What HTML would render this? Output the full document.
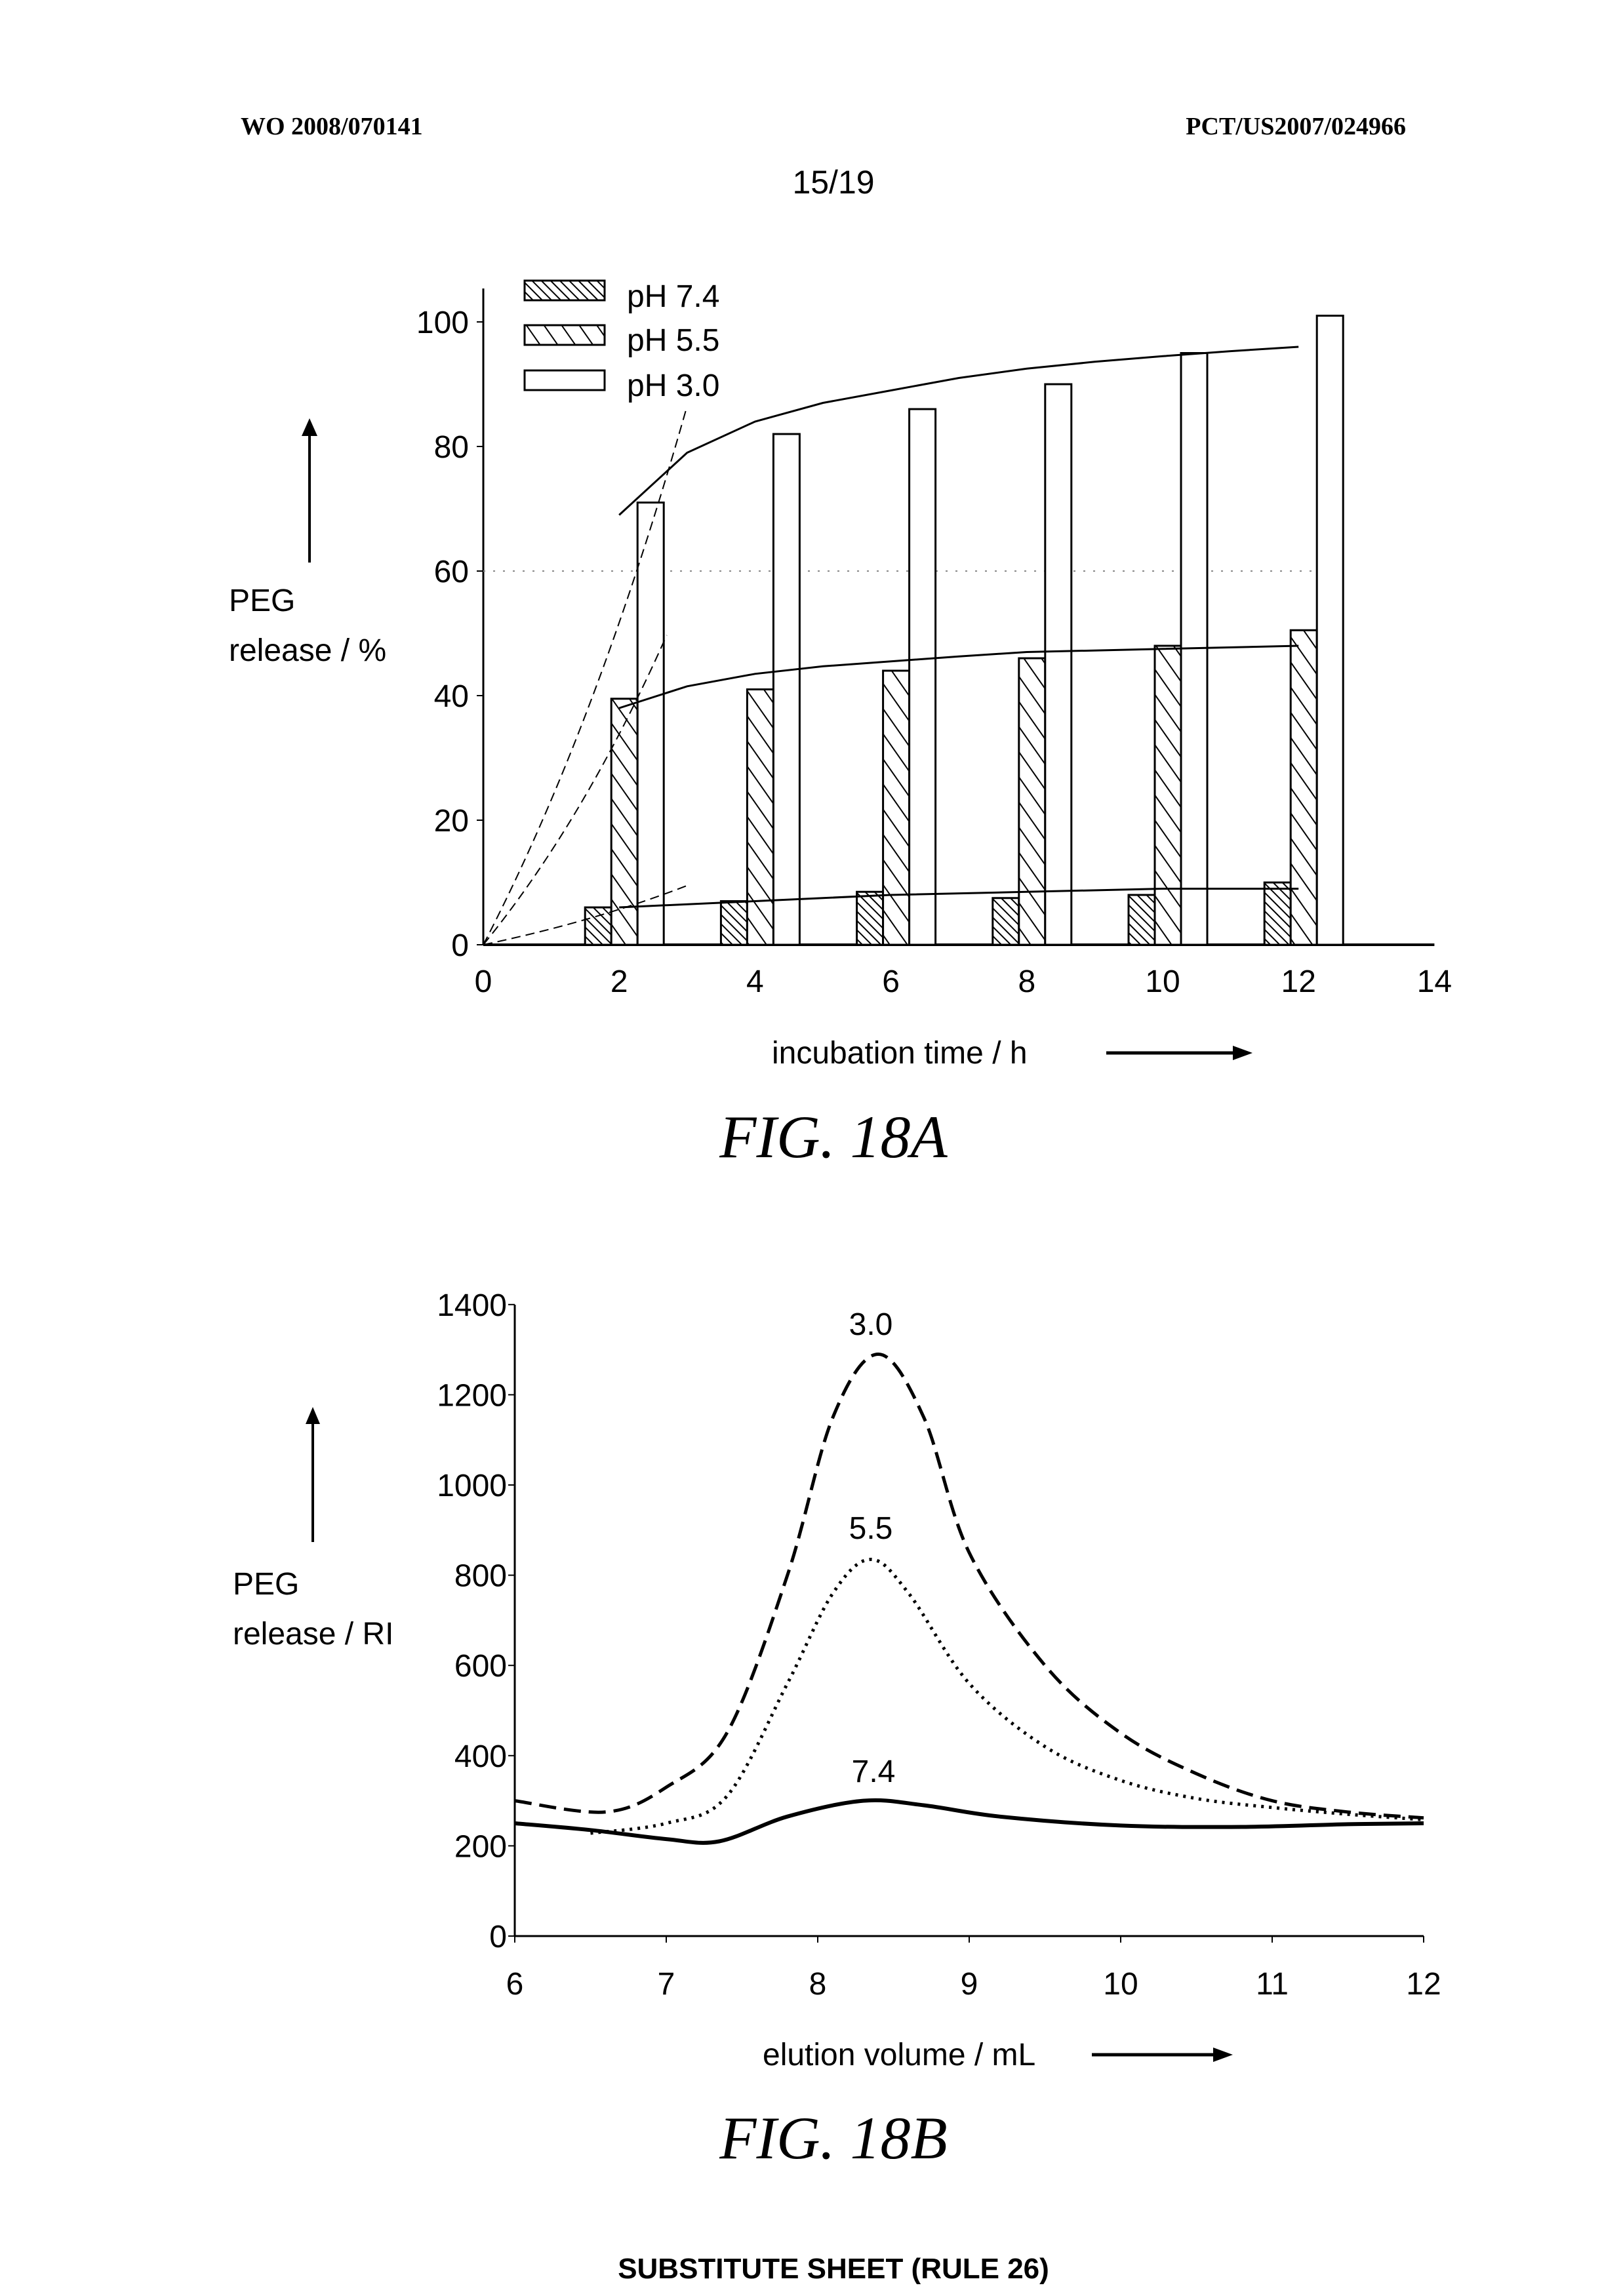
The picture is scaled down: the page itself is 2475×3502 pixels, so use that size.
<!DOCTYPE html>
<html><head><meta charset="utf-8"><style>
html,body{margin:0;padding:0;background:#fff}
svg{display:block}
text{font-family:"Liberation Sans",Arial,sans-serif;fill:#000}
.t{font-size:48px}
.serif{font-family:"Liberation Serif",serif}
</style></head><body>
<svg id="s" width="2475" height="3502" viewBox="0 0 2475 3502" xmlns="http://www.w3.org/2000/svg">
<defs>
<pattern id="h74" width="10" height="10" patternUnits="userSpaceOnUse" patternTransform="rotate(-45)"><rect width="10" height="10" fill="#fff"/><line x1="0" y1="0" x2="0" y2="10" stroke="#000" stroke-width="4"/></pattern>
<pattern id="h55" width="22" height="22" patternUnits="userSpaceOnUse" patternTransform="rotate(55)"><rect width="22" height="22" fill="#fff"/><line x1="0" y1="0" x2="22" y2="0" stroke="#000" stroke-width="4"/></pattern>
</defs>
<text x="367" y="205" class="serif" font-size="38" font-weight="bold">WO 2008/070141</text>
<text x="2144" y="205" class="serif" font-size="38" font-weight="bold" text-anchor="end">PCT/US2007/024966</text>
<text x="1271" y="295" font-size="50" text-anchor="middle">15/19</text>
<g id="A"></g>
<g id="B"></g>
<text x="1271" y="1765" class="serif" font-size="92" font-style="italic" text-anchor="middle">FIG. 18A</text>
<text x="1271" y="3292" class="serif" font-size="92" font-style="italic" text-anchor="middle">FIG. 18B</text>
<text x="1271" y="3475" font-size="44" font-weight="bold" text-anchor="middle">SUBSTITUTE SHEET (RULE 26)</text>
</svg>
<script>
var NS="http://www.w3.org/2000/svg";
function el(p,n,a,t){var e=document.createElementNS(NS,n);for(var k in a)e.setAttribute(k,a[k]);if(t!==undefined)e.textContent=t;p.appendChild(e);return e;}
var A=document.getElementById('A');
var X0=737,XU=103.6,Y0=1441,YU=9.5;
function ax(v){return X0+v*XU}function ay(v){return Y0-v*YU}
el(A,'line',{x1:X0,y1:440,x2:X0,y2:Y0,stroke:'#000','stroke-width':3});
el(A,'line',{x1:X0,y1:Y0,x2:ax(14),y2:Y0,stroke:'#000','stroke-width':4});
el(A,'line',{x1:X0,y1:ay(60),x2:ax(12.5),y2:ay(60),stroke:'#888','stroke-width':2,'stroke-dasharray':'3 12'});
[0,20,40,60,80,100].forEach(function(v){el(A,'line',{x1:X0-10,y1:ay(v),x2:X0,y2:ay(v),stroke:'#000','stroke-width':2});el(A,'text',{x:X0-22,y:ay(v)+17,'text-anchor':'end',class:'t'},v)});
for(var v=0;v<=14;v+=2)el(A,'text',{x:ax(v),y:1513,'text-anchor':'middle',class:'t'},v);
var d=[[2,6,39.5,71],[4,7,41,82],[6,8.5,44,86],[8,7.5,46,90],[10,8,48,95],[12,10,50.5,101]];
d.forEach(function(r){var c=ax(r[0]);
el(A,'rect',{x:c-52,y:ay(r[1]),width:40,height:r[1]*YU,fill:'url(#h74)',stroke:'#000','stroke-width':3});
el(A,'rect',{x:c-12,y:ay(r[2]),width:40,height:r[2]*YU,fill:'url(#h55)',stroke:'#000','stroke-width':3});
el(A,'rect',{x:c+28,y:ay(r[3]),width:40,height:r[3]*YU,fill:'#fff',stroke:'#000','stroke-width':3});});
function pl(p,pts,f){return pts.map(function(q,i){return (i?'L':'M')+f[0](q[0]).toFixed(1)+' '+f[1](q[1]).toFixed(1)}).join(' ')}
var fa=[ax,ay];
el(A,'path',{d:pl(0,[[2,69],[3,79],[4,84],[5,87],[6,89],[7,91],[8,92.5],[9,93.6],[10,94.5],[11,95.3],[12,96]],fa),fill:'none',stroke:'#000','stroke-width':3});
el(A,'path',{d:pl(0,[[2,38],[3,41.5],[4,43.5],[5,44.7],[6,45.5],[7,46.3],[8,47],[10,47.5],[12,48]],fa),fill:'none',stroke:'#000','stroke-width':3});
el(A,'path',{d:pl(0,[[2,6],[4,7],[6,8],[8,8.5],[10,9],[12,9]],fa),fill:'none',stroke:'#000','stroke-width':3});
[[3,86.5],[2.7,49.7],[3,9.5]].forEach(function(e){el(A,'path',{d:'M'+ax(0)+' '+ay(0)+' Q'+ax(e[0]*0.55)+' '+ay(e[1]*0.4)+' '+ax(e[0])+' '+ay(e[1]),fill:'none',stroke:'#000','stroke-width':2,'stroke-dasharray':'14 8'})});
[['url(#h74)',428,'pH 7.4',468],['url(#h55)',496,'pH 5.5',535],['#fff',565,'pH 3.0',604]].forEach(function(l){
el(A,'rect',{x:800,y:l[1],width:122,height:30,fill:l[0],stroke:'#000','stroke-width':3});
el(A,'text',{x:956,y:l[3],class:'t'},l[2]);});
el(A,'text',{x:349,y:932,class:'t'},'PEG');
el(A,'text',{x:349,y:1008,class:'t'},'release / %');
el(A,'line',{x1:472,y1:858,x2:472,y2:660,stroke:'#000','stroke-width':4});
el(A,'path',{d:'M460 665 L472 638 L484 665 Z'});
el(A,'text',{x:1177,y:1622,class:'t'},'incubation time / h');
el(A,'line',{x1:1687,y1:1606,x2:1885,y2:1606,stroke:'#000','stroke-width':5});
el(A,'path',{d:'M1880 1595 L1910 1606 L1880 1617 Z'});
var B=document.getElementById('B');
var BX0=785,BXU=231,BY0=2953,BYU=0.688;
function bx(v){return BX0+(v-6)*BXU}function by(v){return BY0-v*BYU}
el(B,'line',{x1:BX0,y1:1990,x2:BX0,y2:BY0,stroke:'#000','stroke-width':3});
el(B,'line',{x1:BX0,y1:BY0,x2:bx(12),y2:BY0,stroke:'#000','stroke-width':3});
for(var v=0;v<=1400;v+=200){el(B,'line',{x1:BX0-10,y1:by(v),x2:BX0,y2:by(v),stroke:'#000','stroke-width':2});el(B,'text',{x:BX0-12,y:by(v)+17,'text-anchor':'end',class:'t'},v)}
for(var v=6;v<=12;v++){el(B,'line',{x1:bx(v),y1:BY0,x2:bx(v),y2:BY0+10,stroke:'#000','stroke-width':2});el(B,'text',{x:bx(v),y:3042,'text-anchor':'middle',class:'t'},v)}
function smooth(pts){var s='M'+bx(pts[0][0])+' '+by(pts[0][1]);for(var i=0;i<pts.length-1;i++){var p0=pts[Math.max(i-1,0)],p1=pts[i],p2=pts[i+1],p3=pts[Math.min(i+2,pts.length-1)];
var c1=[p1[0]+(p2[0]-p0[0])/6,p1[1]+(p2[1]-p0[1])/6],c2=[p2[0]-(p3[0]-p1[0])/6,p2[1]-(p3[1]-p1[1])/6];
s+=' C'+bx(c1[0]).toFixed(1)+' '+by(c1[1]).toFixed(1)+' '+bx(c2[0]).toFixed(1)+' '+by(c2[1]).toFixed(1)+' '+bx(p2[0]).toFixed(1)+' '+by(p2[1]).toFixed(1);}return s}
el(B,'path',{d:smooth([[6,300],[6.6,275],[7,330],[7.4,450],[7.8,800],[8.1,1150],[8.4,1290],[8.7,1150],[9,850],[9.5,600],[10,450],[10.5,360],[11,300],[11.5,275],[12,262]]),fill:'none',stroke:'#000','stroke-width':5,'stroke-dasharray':'26 12'});
el(B,'path',{d:smooth([[6.5,228],[7,250],[7.4,310],[7.8,560],[8.1,760],[8.35,835],[8.6,760],[9,560],[9.5,420],[10,345],[10.5,305],[11,285],[11.5,270],[12,258]]),fill:'none',stroke:'#000','stroke-width':5,'stroke-dasharray':'4 8'});
el(B,'path',{d:smooth([[6,250],[6.5,235],[7,215],[7.35,210],[7.8,265],[8.3,300],[8.7,290],[9.2,265],[10,245],[10.8,242],[11.5,248],[12,250]]),fill:'none',stroke:'#000','stroke-width':6});
el(B,'text',{x:1328,y:2036,class:'t','text-anchor':'middle'},'3.0');
el(B,'text',{x:1328,y:2347,class:'t','text-anchor':'middle'},'5.5');
el(B,'text',{x:1332,y:2718,class:'t','text-anchor':'middle'},'7.4');
el(B,'text',{x:355,y:2432,class:'t'},'PEG');
el(B,'text',{x:355,y:2508,class:'t'},'release / RI');
el(B,'line',{x1:477,y1:2352,x2:477,y2:2168,stroke:'#000','stroke-width':4});
el(B,'path',{d:'M466 2172 L477 2146 L488 2172 Z'});
el(B,'text',{x:1163,y:3150,class:'t'},'elution volume / mL');
el(B,'line',{x1:1665,y1:3134,x2:1855,y2:3134,stroke:'#000','stroke-width':5});
el(B,'path',{d:'M1850 3123 L1880 3134 L1850 3145 Z'});
</script>
</body></html>
